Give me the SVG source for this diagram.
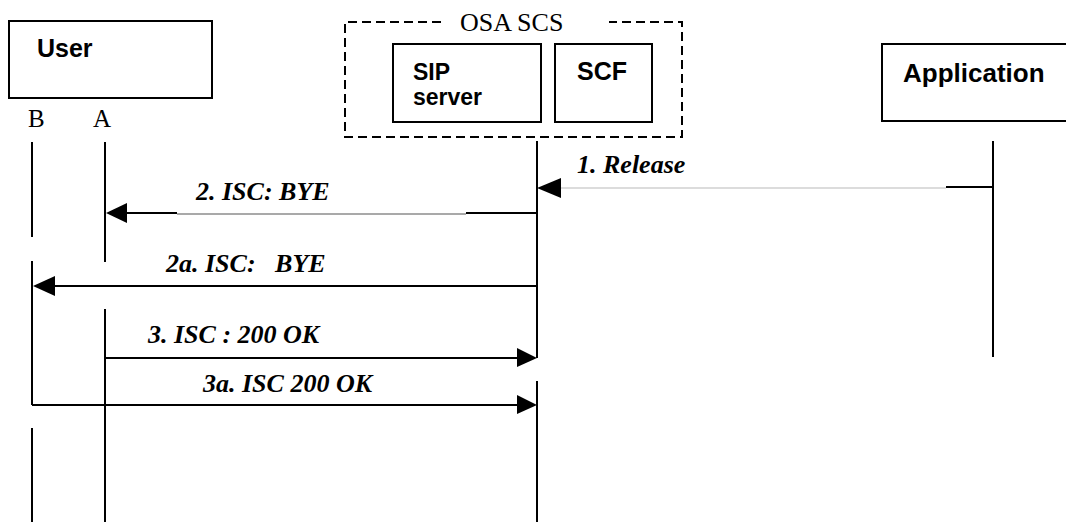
<svg xmlns="http://www.w3.org/2000/svg" width="1066" height="522" viewBox="0 0 1066 522">
<style>
.box{fill:#fff;stroke:#000;stroke-width:2}
.dash{fill:none;stroke:#000;stroke-width:2;stroke-dasharray:9 5}
.ll{stroke:#000;stroke-width:2;fill:none}
.msg{stroke:#000;stroke-width:2;fill:none}
.faint{stroke:#d0d0d0;stroke-width:1.5;fill:none}
.mid{stroke:#8c8c8c;stroke-width:1.5;fill:none}
.head{fill:#000;stroke:none}
.lbl{font-family:"Liberation Sans",Arial,sans-serif;font-weight:bold;fill:#000}
.ser{font-family:"Liberation Serif","Times New Roman",serif;fill:#000}
.m{font-family:"Liberation Serif","Times New Roman",serif;font-weight:bold;font-style:italic;font-size:26px;fill:#000}
</style>
<rect width="1066" height="522" fill="#fff"/>
<g id="user">
<rect class="box" x="9" y="21" width="203" height="77"/>
<text class="lbl" x="37" y="57" font-size="25">User</text>
<text class="ser" x="28" y="127" font-size="25">B</text>
<text class="ser" x="93" y="127" font-size="25">A</text>
</g>
<g id="osa-scs">
<path class="dash" d="M441,22 H345 V137 H682 V22 H609"/>
<text class="ser" x="460" y="31" font-size="26">OSA SCS</text>
</g>
<g id="sip-server">
<rect class="box" x="393" y="44" width="148" height="78"/>
<text class="lbl" x="413" y="80" font-size="23">SIP</text>
<text class="lbl" x="413" y="105" font-size="23">server</text>
</g>
<g id="scf">
<rect class="box" x="555" y="44" width="97" height="78"/>
<text class="lbl" x="577" y="80" font-size="25">SCF</text>
</g>
<g id="application">
<rect class="box" x="882" y="44" width="200" height="77"/>
<text class="lbl" x="903" y="82" font-size="26">Application</text>
</g>
<g id="lifelines">
<path class="ll" d="M32,142 V237 M32,261 V405 M32,428 V522"/>
<path class="ll" d="M105,142 V262 M105,309 V522"/>
<path class="ll" d="M537,141 V358 M537,381 V522"/>
<path class="ll" d="M993,141 V357"/>
</g>
<g id="connectors">
<g id="m1">
<path class="msg" d="M993,187 H946"/>
<path class="faint" d="M946,188 H559"/>
<polygon class="head" points="537,188 561,178 561,198"/>
<text class="m" x="577" y="173">1. Release</text>
</g>
<g id="m2">
<path class="msg" d="M537,213 H466"/>
<path class="mid" d="M466,214 H177"/>
<path class="msg" d="M177,213 H126"/>
<polygon class="head" points="106,213 127,203 127,223"/>
<text class="m" x="196" y="200">2. ISC: BYE</text>
</g>
<g id="m2a">
<path class="msg" d="M537,286 H54"/>
<polygon class="head" points="33,286 55,276 55,296"/>
<text class="m" x="166" y="272" xml:space="preserve">2a. ISC:   BYE</text>
</g>
<g id="m3">
<path class="msg" d="M105,358 H518"/>
<polygon class="head" points="537,358 517,348 517,367"/>
<text class="m" x="148" y="343">3. ISC : 200 OK</text>
</g>
<g id="m3a">
<path class="msg" d="M32,405 H518"/>
<polygon class="head" points="537,405 517,395 517,414"/>
<text class="m" x="203" y="392">3a. ISC 200 OK</text>
</g>
</g>
</svg>
